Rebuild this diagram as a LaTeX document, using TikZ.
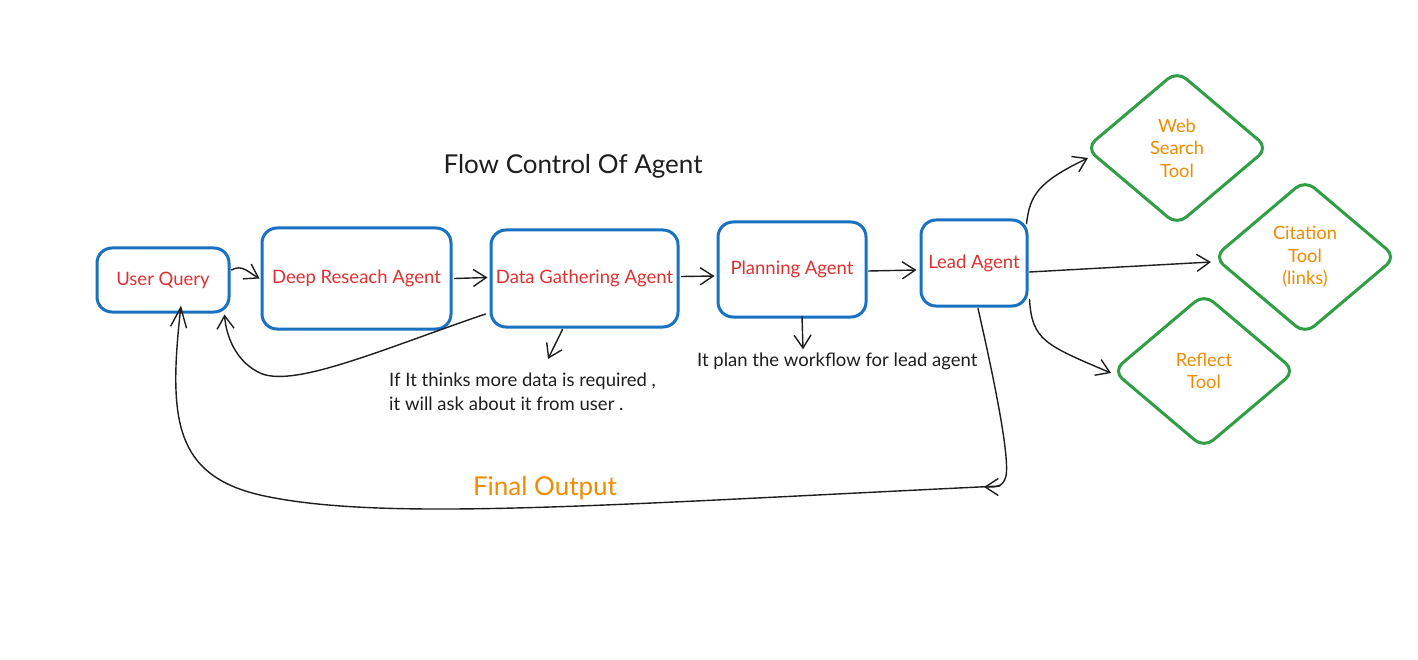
\documentclass[tikz,border=0pt]{standalone}
\usepackage{fontspec}
\setmainfont{Lato}
\usetikzlibrary{arrows.meta,shapes.geometric,calc}
\definecolor{exblue}{HTML}{1971C2}
\definecolor{exgreen}{HTML}{2F9E44}
\definecolor{exred}{HTML}{E03131}
\definecolor{exorange}{HTML}{F08C00}
\definecolor{exblack}{HTML}{1E1E1E}
\tikzset{
  agent/.style={draw=exblue, line width=3pt, rounded corners=15pt, text=exred,
    font=\fontsize{18.5}{22}\selectfont, inner sep=0pt},
  tool/.style={draw=exgreen, line width=3pt, diamond, rounded corners=12pt, text=exorange,
    font=\fontsize{18.3}{22.5}\selectfont, align=center, inner sep=0pt,
    minimum width=183pt, minimum height=155pt},
  note/.style={text=exblack, font=\fontsize{18.5}{24}\selectfont, align=left, inner sep=0pt},
  conn/.style={draw=exblack, line width=1.4pt, line cap=round,
    -{Straight Barb[length=13pt,width=17pt,line width=1.4pt]}},
  bigconn/.style={draw=exblack, line width=1.4pt, line cap=round,
    -{Straight Barb[length=20pt,width=16pt,line width=1.4pt]}},
  plain/.style={draw=exblack, line width=1.4pt, line cap=round}
}
\begin{document}
\begin{tikzpicture}[x=1pt,y=-1pt]
\useasboundingbox[fill=white] (0,0) rectangle (1418,660);

\node[text=exblack, font=\fontsize{26}{30}\selectfont, inner sep=0pt] (title) at (573,166) {Flow Control Of Agent};

\node[agent, minimum width=132pt, minimum height=64pt] (uq) at (163,280) {User Query};
\node[agent, minimum width=189pt, minimum height=101pt] (dr) at (356.5,278.5) {Deep Reseach Agent};
\node[agent, minimum width=187pt, minimum height=97pt] (dg) at (584.5,278.5) {Data Gathering Agent};
\node[agent, minimum width=148pt, minimum height=95pt] (pa) at (792,269.5) {Planning Agent};
\node[agent, minimum width=106pt, minimum height=86pt] (la) at (974,263) {Lead Agent};

\node[tool] (ws) at (1177,148) {Web\\Search\\Tool};
\node[tool] (ct) at (1305,257) {Citation\\Tool\\(links)};
\node[tool] (rt) at (1204,371) {Reflect\\Tool};

\node[note, anchor=west] (n1) at (389,392) {If It thinks more data is required ,\\it will ask about it from user .};
\node[note, anchor=west] (n2) at (697,361) {It plan the workflow for lead agent};
\node[text=exorange, font=\fontsize{26}{30}\selectfont, inner sep=0pt] (fo) at (545,488) {Final Output};

\coordinate (bend) at (1000,486);

% main chain
\draw[conn] ($(uq.east)+(1,-10)$) .. controls (242,264) and (248,272) .. ($(dr.west)+(-1,0)$);
\draw[conn] ($(dr.east)+(2,0)$) -- ($(dg.west)+(-2,-1)$);
\draw[conn] ($(dg.east)+(2,-2)$) -- ($(pa.west)+(-2,6.5)$);
\draw[conn] ($(pa.east)+(1,1.5)$) -- ($(la.west)+(-3,7)$);

% lead to tools
\draw[conn] ($(la.north east)+(-2,5)$) .. controls (1030,195) and (1038,182) .. ($(ws.west)+(4,10)$);
\draw[conn] ($(la.east)+(1,9)$) -- ($(ct.west)+(-1,5)$);
\draw[conn] ($(la.south east)+(1,-8)$) .. controls (1032,340) and (1045,345) .. ($(rt.west)+(0,2)$);

% notes
\draw[conn] ($(dg.south)+(-22,1)$) -- ($(n1.north west)+(159,-14)$);
\draw[conn] ($(pa.south)+(10,-2)$) -- ($(n2.north west)+(106,-3)$);

% feedback to user
\draw[conn] ($(dg.west)+(-4,35.5)$) .. controls (380,350) and (290,390) .. (258,372)
  .. controls (235,360) and (226,335) .. ($(uq.south east)+(-6,1)$);

% final output loop
\draw[conn] ($(la.south)+(4,1)$) .. controls (992,370) and (1010,455) .. (1006,476)
  .. controls (1003,488) and (995,487) .. (984,487);
\draw[bigconn] (bend) .. controls (600,505) and (380,522) .. (260,495)
  .. controls (175,475) and (168,420) .. ($(uq.south)+(18,-8)$);
\end{tikzpicture}
\end{document}
